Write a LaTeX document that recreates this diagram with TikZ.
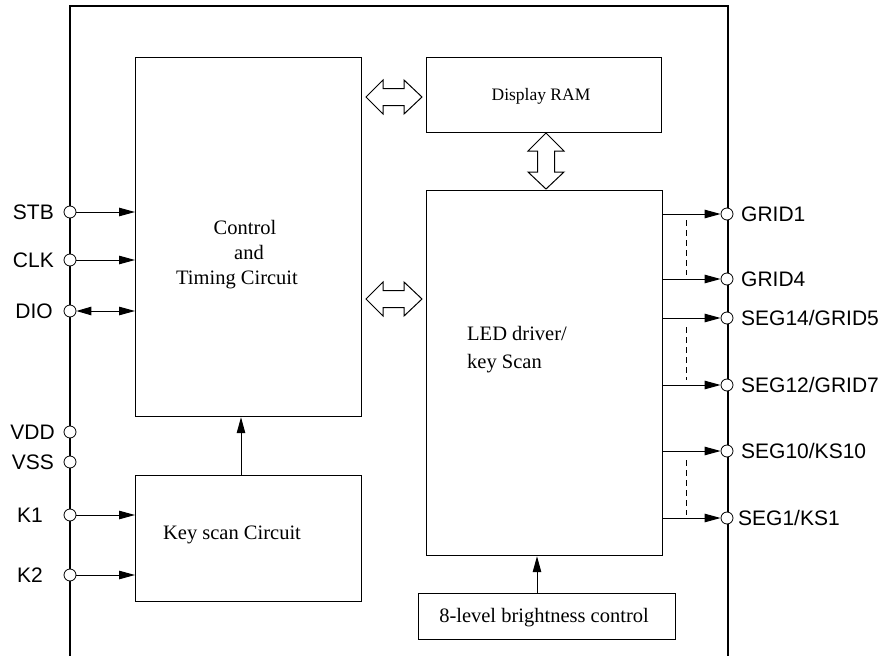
\documentclass[tikz,border=0pt]{standalone}
\usepackage{fontspec}
\setsansfont{Liberation Sans}
\setmainfont{Liberation Serif}
\usetikzlibrary{arrows.meta}
\begin{document}
\begin{tikzpicture}[x=1pt,y=-1pt,
  blk/.style={draw, line width=1.2pt, inner sep=0pt, anchor=north west},
  pin/.style={circle, draw, fill=white, minimum size=12pt, inner sep=0pt, line width=0.8pt},
  plab/.style={font=\sffamily\fontsize{21}{24}\selectfont, inner sep=0pt, text height=15pt, text depth=0pt},
  tlab/.style={font=\fontsize{20.5}{24}\selectfont, inner sep=0pt, text height=13.6pt, text depth=0pt},
  sig/.style={line width=1pt, -{Triangle[length=16pt,width=8.5pt]}},
  bisig/.style={line width=1pt, {Triangle[length=15pt,width=8.5pt]}-{Triangle[length=16pt,width=8.5pt]}},
  dbl/.style={draw, line width=1pt, fill=white},
  hdbl/.pic={\draw[dbl] (-28,0) -- (-11,-17) -- (-11,-8.5) -- (10,-8.5) -- (10,-17) -- (28,0) -- (10,17) -- (10,8.5) -- (-11,8.5) -- (-11,17) -- cycle;},
  vdbl/.pic={\draw[dbl] (0,-28) -- (-18,-10) -- (-8.5,-10) -- (-8.5,11) -- (-18,11) -- (0,28) -- (18,11) -- (8.5,11) -- (8.5,-10) -- (18,-10) -- cycle;},
  dsh/.style={line width=0.9pt, dash pattern=on 6pt off 4pt}
]
\useasboundingbox (0,0) rectangle (889,656);

% outer frame
\draw[line width=1.3pt] (70,656) -- (70,6) -- (728,6) -- (728,656);

% blocks
\node[blk, minimum width=226pt, minimum height=359pt] (ctl) at (135,57) {};
\node[blk, minimum width=235pt, minimum height=75pt] (ram) at (426,57) {};
\node[blk, minimum width=236pt, minimum height=365pt] (led) at (426,190) {};
\node[blk, minimum width=226pt, minimum height=126pt] (ks) at (135,475) {};
\node[blk, minimum width=257pt, minimum height=46pt] (br) at (418,593) {};

% block texts
\node[tlab] (t1) at (245,228) {Control};
\node[tlab] (t2) at (249,253) {and};
\node[tlab] (t3) at (237,278) {Timing Circuit};
\node[tlab, font=\fontsize{17.5}{20}\selectfont, text height=11.6pt] (t4) at (541,95) {Display RAM};
\node[tlab, anchor=west] (t5) at (467,334) {LED driver/};
\node[tlab, anchor=west] (t6) at (467,362) {key Scan};
\node[tlab] (t7) at (232,533) {Key scan Circuit};
\node[tlab] (t8) at (544,616) {8-level brightness control};

% wide double arrows
\pic at (394,97) {hdbl};
\pic at (394,299) {hdbl};
\pic at (546,161) {vdbl};

% left pins
\node[pin] (stb) at (70,212) {};
\node[pin] (clk) at (70,260) {};
\node[pin] (dio) at (70,311) {};
\node[pin] (vdd) at (70,432) {};
\node[pin] (vss) at (70,462) {};
\node[pin] (k1) at (70,515) {};
\node[pin] (k2) at (70,575) {};
\node[plab, anchor=east] (lstb) at (54,212) {STB};
\node[plab, anchor=east] (lclk) at (54,260) {CLK};
\node[plab, anchor=east] (ldio) at (53,311) {DIO};
\node[plab, anchor=east] (lvdd) at (55,432) {VDD};
\node[plab, anchor=east] (lvss) at (54,462) {VSS};
\node[plab, anchor=east] (lk1) at (43,515) {K1};
\node[plab, anchor=east] (lk2) at (43,575) {K2};

\draw[sig] (stb) -- (stb -| ctl.west);
\draw[sig] (clk) -- (clk -| ctl.west);
\draw[bisig] (dio) -- (dio -| ctl.west);
\draw[sig] (k1) -- (k1 -| ks.west);
\draw[sig] (k2) -- (k2 -| ks.west);

% right pins
\node[pin] (g1) at (727,214) {};
\node[pin] (g4) at (727,279) {};
\node[pin] (s14) at (727,318) {};
\node[pin] (s12) at (727,385) {};
\node[pin] (s10) at (727,451) {};
\node[pin] (s1) at (727,518) {};
\node[plab, anchor=west] (lg1) at (741,214) {GRID1};
\node[plab, anchor=west] (lg4) at (741,279) {GRID4};
\node[plab, anchor=west] (ls14) at (741,318) {SEG14/GRID5};
\node[plab, anchor=west] (ls12) at (741,385) {SEG12/GRID7};
\node[plab, anchor=west] (ls10) at (741,451) {SEG10/KS10};
\node[plab, anchor=west] (ls1) at (738,518) {SEG1/KS1};

\draw[sig] (g1 -| led.east) -- (g1);
\draw[sig] (g4 -| led.east) -- (g4);
\draw[sig] (s14 -| led.east) -- (s14);
\draw[sig] (s12 -| led.east) -- (s12);
\draw[sig] (s10 -| led.east) -- (s10);
\draw[sig] (s1 -| led.east) -- (s1);

% dashed continuation marks
\draw[dsh] (686,220) -- (686,275);
\draw[dsh] (686,327) -- (686,380);
\draw[dsh] (686,460) -- (686,515);

% vertical internal arrows
\coordinate (ksup) at (241,475);
\draw[sig] (ksup) -- (ksup |- ctl.south);
\coordinate (brup) at (537,593);
\draw[sig] (brup) -- (brup |- led.south);
\end{tikzpicture}
\end{document}
